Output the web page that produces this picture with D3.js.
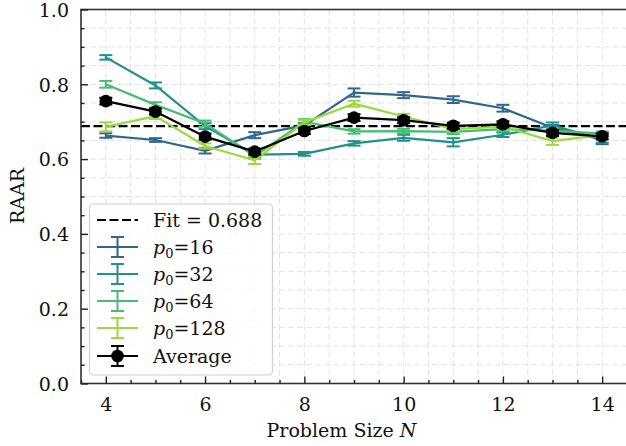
<!DOCTYPE html>
<html><head><meta charset="utf-8">
<script src="https://cdn.jsdelivr.net/npm/d3@7"></script>
<style>body{margin:0;background:#fff}svg{display:block}text{font-family:"DejaVu Serif",serif;fill:#111}</style>
</head><body><svg id="c" width="626" height="446"></svg>
<script>
const N = [4,5,6,7,8,9,10,11,12,13,14];
const p16 = [0.663,0.651,0.622,0.664,0.690,0.778,0.771,0.759,0.736,0.684,0.652];
const p16Err = [0.006,0.005,0.007,0.008,0.006,0.011,0.008,0.009,0.009,0.007,0.012];
const p32 = [0.872,0.797,0.688,0.612,0.614,0.642,0.657,0.645,0.665,0.690,0.653];
const p32Err = [0.006,0.008,0.008,0.006,0.005,0.006,0.008,0.011,0.006,0.008,0.009];
const p64 = [0.800,0.745,0.695,0.608,0.700,0.674,0.675,0.673,0.680,0.676,0.668];
const p64Err = [0.009,0.007,0.008,0.007,0.007,0.006,0.006,0.006,0.006,0.007,0.006];
const p128 = [0.686,0.715,0.635,0.597,0.698,0.748,0.714,0.680,0.687,0.648,0.665];
const p128Err = [0.012,0.008,0.007,0.010,0.007,0.008,0.007,0.006,0.007,0.010,0.006];
const avg = [0.755,0.727,0.660,0.620,0.675,0.711,0.704,0.689,0.693,0.670,0.661];
const avgErr = [0.009,0.008,0.008,0.008,0.008,0.009,0.008,0.008,0.008,0.008,0.008];
const fitValue = 0.688;
const seriesLabels = ["16","32","64","128"];
const xTicks = [4,6,8,10,12,14];
const yTicks = [0,0.2,0.4,0.6,0.8,1.0];

const svg = d3.select("#c");
const L = 81, R = 627, T = 9.5, B = 383.5;
const x = d3.scaleLinear().domain([3.5,14.5]).range([L,R]);
const y = d3.scaleLinear().domain([0,1]).range([B,T]);
const colors = [0.33,0.5,0.7,0.85].map(t=>d3.interpolateViridis(t));
const series = [[p16,p16Err],[p32,p32Err],[p64,p64Err],[p128,p128Err]];

// grid
const xGrid = d3.range(3.5,14.51,0.5), yGrid = d3.range(0,1.001,0.05);
const g = svg.append("g");
g.selectAll(".gx").data(xGrid).join("line").attr("x1",d=>x(d)).attr("x2",d=>x(d)).attr("y1",T).attr("y2",B)
 .attr("stroke","#e3e3e3").attr("stroke-width",1).attr("stroke-dasharray","6,3");
g.selectAll(".gy").data(yGrid).join("line").attr("y1",d=>y(d)).attr("y2",d=>y(d)).attr("x1",L).attr("x2",R)
 .attr("stroke","#e3e3e3").attr("stroke-width",1).attr("stroke-dasharray","6,3");

// fit line
svg.append("line").attr("x1",L).attr("x2",R).attr("y1",y(fitValue)).attr("y2",y(fitValue))
 .attr("stroke","#000").attr("stroke-width",2.2).attr("stroke-dasharray","9,3.5");

const line = d3.line().x((d,i)=>x(N[i])).y(d=>y(d));
function drawSeries(vals, errs, col, marker){
  const s = svg.append("g");
  s.append("path").attr("d",line(vals)).attr("fill","none").attr("stroke",col).attr("stroke-width",2.2);
  const eb = s.selectAll("g").data(vals).join("g");
  eb.append("line").attr("x1",(d,i)=>x(N[i])).attr("x2",(d,i)=>x(N[i]))
    .attr("y1",(d,i)=>y(d-errs[i])).attr("y2",(d,i)=>y(d+errs[i])).attr("stroke",col).attr("stroke-width",2);
  [-1,1].forEach(sg=>{
    eb.append("line").attr("x1",(d,i)=>x(N[i])-6.5).attr("x2",(d,i)=>x(N[i])+6.5)
      .attr("y1",(d,i)=>y(d+sg*errs[i])).attr("y2",(d,i)=>y(d+sg*errs[i])).attr("stroke",col).attr("stroke-width",2);
  });
  if(marker){
    s.selectAll("circle").data(vals).join("circle").attr("cx",(d,i)=>x(N[i])).attr("cy",d=>y(d)).attr("r",6.3).attr("fill",col);
  }
}
series.forEach((s,k)=>drawSeries(s[0],s[1],colors[k],false));
drawSeries(avg,avgErr,"#000",true);

// axes frame
svg.append("rect").attr("x",L).attr("y",T).attr("width",R-L).attr("height",B-T).attr("fill","none").attr("stroke","#333").attr("stroke-width",1.6);

// ticks (inward)
const xa = svg.append("g").attr("transform",`translate(0,${B})`)
 .call(d3.axisBottom(x).tickValues(xTicks).tickSize(-7).tickPadding(14).tickFormat(d3.format("d")));
const xm = svg.append("g").attr("transform",`translate(0,${B})`)
 .call(d3.axisBottom(x).tickValues(xGrid.filter(v=>v%2!==0)).tickSize(-3.5).tickFormat(""));
const ya = svg.append("g").attr("transform",`translate(${L},0)`)
 .call(d3.axisLeft(y).tickValues(yTicks).tickSize(-7).tickPadding(12).tickFormat(d3.format(".1f")));
const ym = svg.append("g").attr("transform",`translate(${L},0)`)
 .call(d3.axisLeft(y).tickValues(yGrid.filter(v=>Math.abs(v*5-Math.round(v*5))>1e-6)).tickSize(-3.5).tickFormat(""));
[xa,xm,ya,ym].forEach(a=>{a.select(".domain").remove();a.selectAll("line").attr("stroke","#222").attr("stroke-width",1.4);
 a.selectAll("text").style("font-family","DejaVu Serif").style("font-size","19px").attr("fill","#111");});
ya.selectAll("text").attr("dy","0.36em");

// axis labels
const xl = svg.append("text").attr("x",341.5).attr("y",437).attr("text-anchor","middle").style("font-size","19px");
xl.append("tspan").text("Problem Size ");
xl.append("tspan").attr("font-style","italic").text("N");
svg.append("text").attr("transform","translate(24,196) rotate(-90)").attr("text-anchor","middle").style("font-size","19px").text("RAAR");

// legend
const lg = svg.append("g");
lg.append("rect").attr("x",89.5).attr("y",204).attr("width",183).attr("height",171).attr("rx",4)
 .attr("fill","rgba(255,255,255,0.85)").attr("stroke","#d0d0d0").attr("stroke-width",1.2);
const ly = [220,247,274,301,328,356], hx0=97, hx1=138, hc=117.5, tx=153;
lg.append("line").attr("x1",hx0).attr("x2",hx1).attr("y1",ly[0]).attr("y2",ly[0]).attr("stroke","#000").attr("stroke-width",2.2).attr("stroke-dasharray","9,3.5");
lg.append("text").attr("x",tx).attr("y",ly[0]+6.5).style("font-size","19px").text("Fit = "+fitValue.toFixed(3));
function legErr(yy,col,marker){
  lg.append("line").attr("x1",hx0).attr("x2",hx1).attr("y1",yy).attr("y2",yy).attr("stroke",col).attr("stroke-width",2.2);
  lg.append("line").attr("x1",hc).attr("x2",hc).attr("y1",yy-10).attr("y2",yy+10).attr("stroke",col).attr("stroke-width",2);
  [-10,10].forEach(o=>lg.append("line").attr("x1",hc-6.5).attr("x2",hc+6.5).attr("y1",yy+o).attr("y2",yy+o).attr("stroke",col).attr("stroke-width",2));
  if(marker) lg.append("circle").attr("cx",hc).attr("cy",yy).attr("r",6.3).attr("fill",col);
}
seriesLabels.forEach((lab,k)=>{
  legErr(ly[k+1],colors[k],false);
  const t = lg.append("text").attr("x",tx).attr("y",ly[k+1]+6.5).style("font-size","19px");
  t.append("tspan").attr("font-style","italic").text("p");
  t.append("tspan").attr("dy",4).style("font-size","13px").text("0");
  t.append("tspan").attr("dy",-4).text("="+lab);
});
legErr(ly[5],"#000",true);
lg.append("text").attr("x",tx).attr("y",ly[5]+6.5).style("font-size","19px").text("Average");
</script></body></html>
